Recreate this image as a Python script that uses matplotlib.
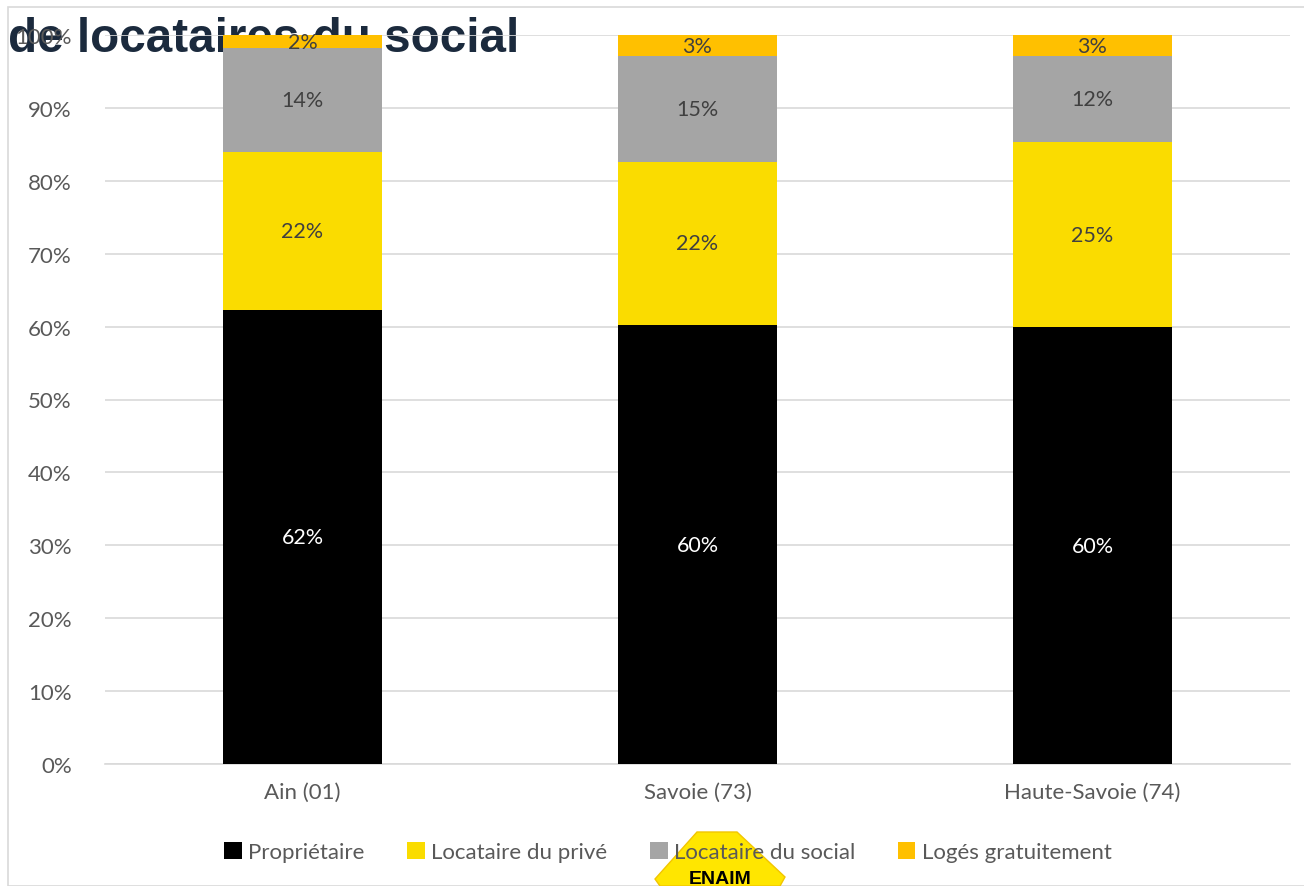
import numpy as np
import matplotlib.pyplot as plt
from matplotlib.patches import Polygon

categories = ['Ain (01)', 'Savoie (73)', 'Haute-Savoie (74)']
series = ['Propriétaire', 'Locataire du privé', 'Locataire du social', 'Logés gratuitement']
proprietaire = [62.3, 60.2, 59.9]
loc_prive = [21.7, 22.4, 25.4]
loc_social = [14.2, 14.5, 11.8]
loges_gratuit = [1.8, 2.9, 2.9]
labels = [['62%', '60%', '60%'],
          ['22%', '22%', '25%'],
          ['14%', '15%', '12%'],
          ['2%', '3%', '3%']]

colors = ['#000000', '#FADC00', '#A5A5A5', '#FFC000']
label_colors = ['white', '#404040', '#404040', '#404040']

plt.rcParams['font.family'] = ['Lato', 'DejaVu Sans']

fig = plt.figure(figsize=(13.04, 8.87), dpi=100)
ax = fig.add_axes([105 / 1304, 1 - 765 / 887, (1290 - 105) / 1304, (765 - 36) / 887])
ax.set_facecolor('none')

# chart frame
fig.patches.append(plt.Rectangle((8 / 1304, 0), 1.1, 1 - 8 / 887, transform=fig.transFigure,
                                 fill=False, edgecolor='#d9d9d9', linewidth=1.2))

# title, partly hidden behind the plot
fig.text(8 / 1304, 1 - 52 / 887, 'de locataires du social', fontsize=34.3,
         fontweight='bold', color='#1B2A3D', family='Liberation Sans', zorder=-1)

x = np.arange(len(categories))
data = [proprietaire, loc_prive, loc_social, loges_gratuit]
bottom = np.zeros(len(categories))
for vals, name, col, lcol, labs in zip(data, series, colors, label_colors, labels):
    vals = np.array(vals)
    ax.bar(x, vals, 0.405, bottom=bottom, color=col, label=name, zorder=3)
    for xi, b, v, t in zip(x, bottom, vals, labs):
        ax.text(xi, b + v / 2, t, ha='center', va='center', fontsize=15.5, color=lcol, zorder=4)
    bottom += vals

ax.set_xlim(-0.5, 2.5)
ax.set_ylim(0, 100)
ax.set_yticks(np.arange(0, 101, 10))
ax.set_yticklabels([f'{v}%' for v in range(0, 101, 10)])
ax.set_xticks(x)
ax.set_xticklabels(categories)
ax.tick_params(axis='both', length=0, labelsize=16, labelcolor='#595959')
ax.tick_params(axis='y', pad=24)
ax.tick_params(axis='x', pad=13)
ax.grid(axis='y', color='#d9d9d9', linewidth=1.2, zorder=0)
for s in ['top', 'right', 'left']:
    ax.spines[s].set_visible(False)
ax.spines['bottom'].set_color('#d9d9d9')
ax.spines['bottom'].set_linewidth(1.2)

fig.legend(loc='center', bbox_to_anchor=(668 / 1304, 1 - 853 / 887), ncol=4, frameon=False,
           fontsize=16, labelcolor='#595959', handlelength=0.8, handleheight=0.8,
           handletextpad=0.3, columnspacing=1.9)

# ENAIM logo at the bottom
pts = [(697, 833), (737, 833), (785, 878), (780, 887), (660, 887), (655, 880)]
fig.patches.append(Polygon([(px / 1304, 1 - py / 887) for px, py in pts], closed=True,
                           transform=fig.transFigure, facecolor='#FFE600', edgecolor='#F2C500',
                           zorder=5))
fig.text(720 / 1304, 1 - 880 / 887, 'ENAIM', ha='center', va='center', fontsize=14,
         fontweight='bold', color='black', family='Liberation Sans', zorder=6)

fig.savefig('out.png', dpi=100)
